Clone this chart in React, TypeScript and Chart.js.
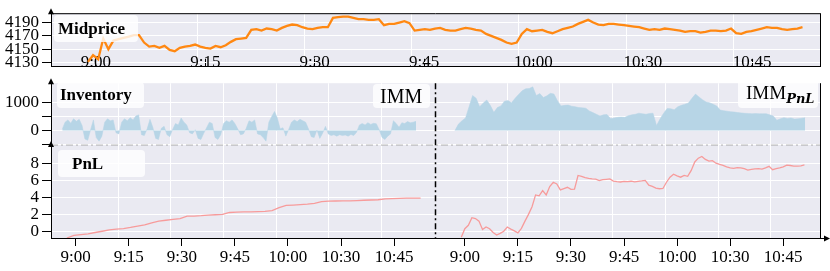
import React, { useEffect, useRef } from 'react';
import { Chart, registerables } from 'chart.js';

Chart.register(...registerables);

// ---------- data ----------
const TIME_LABELS = ['9:00', '9:15', '9:30', '9:45', '10:00', '10:30', '10:45'];
const TICK_STEP_MIN = 15;
const MID_TICKS = [4130, 4150, 4170, 4190];
const INV_TICKS = [-500, 0, 500, 1000];
const INV_LABELED = [0, 1000];
const PNL_TICKS = [0, 2, 4, 6, 8];
// vertical grid lines (minutes), as seen in the figure
const TOP_GRID = [13.9, 28.6, 43.3, 58.0, 72.7, 87.4];
const BOTTOM_GRID = [12.0, 26.9, 41.8, 56.7, 71.6, 86.5];

// Midprice, sampled every 0.7 min from -1.1 min
const MID_START = -1.1;
const MID_STEP = 0.7;
const MIDPRICE = [
  4131, 4141, 4135, 4166, 4150, 4163, 4165, 4167, 4169, 4171,
  4171, 4160, 4154, 4155, 4152, 4155, 4149, 4147, 4152, 4154,
  4155, 4157, 4154, 4152, 4151, 4155, 4153, 4156, 4161, 4165,
  4166, 4167, 4179, 4180, 4178, 4181, 4180, 4178, 4182, 4185,
  4187, 4186, 4183, 4181, 4180, 4182, 4183, 4183, 4197, 4198,
  4199, 4199, 4197, 4195, 4195, 4194, 4194, 4195, 4186, 4188,
  4188, 4190, 4192, 4189, 4178, 4179, 4180, 4179, 4181, 4182,
  4179, 4178, 4178, 4180, 4182, 4181, 4179, 4178, 4173, 4170,
  4167, 4164, 4160, 4158, 4160, 4173, 4180, 4177, 4178, 4179,
  4176, 4174, 4177, 4180, 4182, 4184, 4188, 4191, 4194, 4190,
  4187, 4186, 4188, 4188, 4187, 4186, 4185, 4184, 4183, 4181,
  4179, 4180, 4179, 4181, 4180, 4179, 4178, 4176, 4177, 4177,
  4175, 4176, 4178, 4178, 4177, 4178, 4181, 4174, 4173, 4176,
  4177, 4179, 4181, 4183, 4182, 4182, 4180, 4179, 4180, 4181, 4183,
];

// Inventory of IMM, every 0.8 min from -3.8 min
const INV_IMM_START = -3.8;
const INV_IMM_STEP = 0.8;
const INV_IMM = [
  50, 300, 380, 260, 420, 330, 400, 180, -300, -350,
  20, 380, -250, -380, -200, 300, 420, 350, 380, -80,
  -120, 300, 420, 350, 460, 380, 520, 560, -150, -180,
  60, 400, 120, -280, -320, 80, 150, -150, -220, 40,
  250, 200, 450, 300, 200, -80, -120, 30, -280, -320,
  -100, 100, 300, 250, -250, -320, -150, 250, 350, 300,
  380, 250, 60, -150, -120, 80, 350, 300, 380, -120,
  -150, -250, -380, 300, 500, 680, 450, 60, 100, -200,
  40, 300, 380, 320, 400, 350, 300, 60, -220, -250,
  20, -280, -100, 150, -120, -180, -150, -200, -150, -180,
  -160, -200, -140, -180, -60, 200, 250, 200, 280, 220,
  260, 240, 30, -250, -320, -200, -120, 350, 250, 120,
  280, 250, 320, 280, 300, 330,
];

// Inventory of IMM_PnL, every 1 min from -2.8 min
const INV_IMMPNL_START = -2.8;
const INV_IMMPNL_STEP = 1;
const INV_IMMPNL = [
  0, 230, 350, 450, 850, 1250, 1150, 850, 980, 1090,
  900, 650, 820, 880, 1050, 1070, 990, 1150, 1290, 1420,
  1490, 1500, 1560, 1250, 1320, 1180, 1240, 1330, 1300, 1060,
  880, 900, 910, 870, 850, 820, 810, 800, 700, 640,
  580, 520, 560, 570, 430, 450, 470, 480, 470, 530,
  560, 580, 620, 600, 580, 610, 620, 180, 420, 620,
  790, 780, 740, 850, 900, 940, 980, 1150, 1300, 1200,
  1100, 1020, 990, 940, 880, 730, 710, 690, 670, 660,
  640, 630, 615, 610, 600, 605, 600, 600, 600, 560,
  520, 370, 420, 460, 430, 450, 410, 420, 440, 460,
];

// PnL of IMM, every 2 min from -2.5 min
const PNL_IMM_START = -2.5;
const PNL_IMM_STEP = 2;
const PNL_IMM = [
  -0.8, -0.5, -0.4, -0.3, -0.15, 0.0, 0.15, 0.25, 0.32, 0.45,
  0.6, 0.75, 1.0, 1.2, 1.3, 1.4, 1.5, 1.78, 1.8, 1.84,
  1.9, 1.95, 2.0, 2.22, 2.26, 2.3, 2.3, 2.33, 2.36, 2.45,
  2.8, 3.05, 3.1, 3.15, 3.2, 3.3, 3.5, 3.56, 3.58, 3.59,
  3.6, 3.63, 3.67, 3.7, 3.73, 3.82, 3.86, 3.9, 3.92, 3.92, 3.93,
];

// PnL of IMM_PnL, every 1 min from -1 min
const PNL_IMMPNL_START = -1;
const PNL_IMMPNL_STEP = 1;
const PNL_IMMPNL = [
  -0.7, 0.3, 0.7, 1.6, 1.5, 1.2, 0.2, 0.5, 0.3, -0.15,
  -0.45, -0.25, 0.0, 0.5, 0.25, 0.05, -0.2, 0.35, 1.2, 2.0,
  2.9, 4.3, 4.2, 4.8, 4.3, 5.3, 5.8, 5.6, 4.9, 5.05,
  5.2, 4.95, 4.98, 6.6, 6.5, 6.35, 6.25, 6.2, 6.18, 6.0,
  6.1, 6.15, 6.2, 5.94, 5.88, 5.83, 5.9, 5.88, 5.92, 5.85,
  5.9, 5.95, 6.02, 5.45, 5.3, 5.1, 5.03, 5.06, 5.8, 6.4,
  6.75, 6.55, 6.4, 6.6, 6.5, 7.2, 8.2, 8.65, 8.85, 8.5,
  8.3, 8.35, 8.05, 7.92, 7.8, 7.62, 7.5, 7.45, 7.54, 7.5,
  7.4, 7.24, 7.33, 7.38, 7.42, 7.35, 7.5, 7.68, 7.28, 7.4,
  7.5, 7.62, 7.82, 7.78, 7.72, 7.7, 7.75, 7.85,
];

// right panel sits after the left one on the shared time axis
const RIGHT_OFFSET = 110;
const DIVIDER = 101.6;

// ---------- styling ----------
const SERIF = "'Liberation Serif', 'Times New Roman', serif";
const BG = '#eaeaf2';
const ORANGE = '#ff8812';
const INV_BLUE = '#b7d5e6';
const PNL_RED = '#f79b9b';

const toXY = (vals: number[], start: number, step: number, off = 0) =>
  vals.map((v, i) => ({ x: off + start + i * step, y: v }));

const tickMinutes = TIME_LABELS.map((_, i) => i * TICK_STEP_MIN);

function arrowUp(ctx: CanvasRenderingContext2D, x: number, y: number) {
  ctx.beginPath();
  ctx.moveTo(x, y - 5);
  ctx.lineTo(x - 3, y + 1);
  ctx.lineTo(x + 3, y + 1);
  ctx.closePath();
  ctx.fill();
}

const bgPlugin = {
  id: 'bgfill',
  beforeDraw(chart: any) {
    const { ctx, chartArea: a } = chart;
    ctx.save();
    ctx.fillStyle = BG;
    ctx.fillRect(a.left, a.top, a.right - a.left, a.bottom - a.top);
    ctx.restore();
  },
};

const topDecor = {
  id: 'topdecor',
  afterDraw(chart: any) {
    const { ctx, chartArea: a } = chart;
    ctx.save();
    ctx.strokeStyle = '#000';
    ctx.lineWidth = 1;
    ctx.beginPath();
    ctx.moveTo(a.left, a.top + 0.5);
    ctx.lineTo(a.right, a.top + 0.5);
    ctx.moveTo(a.right + 0.5, a.top);
    ctx.lineTo(a.right + 0.5, a.bottom);
    ctx.stroke();
    ctx.fillStyle = '#000';
    arrowUp(ctx, a.left, a.top);
    ctx.restore();
  },
};

const bottomDecor = {
  id: 'bottomdecor',
  afterDraw(chart: any) {
    const { ctx, chartArea: a, scales } = chart;
    const xs = scales.x;
    const yi = scales.yi;
    const yp = scales.yp;
    ctx.save();
    ctx.strokeStyle = '#b0b0b0';
    ctx.lineWidth = 1;
    ctx.setLineDash([7, 3, 2, 3]);
    ctx.beginPath();
    ctx.moveTo(a.left, yi.bottom - 1);
    ctx.lineTo(a.right, yi.bottom - 1);
    ctx.stroke();
    const dx = Math.round(xs.getPixelForValue(DIVIDER)) + 0.5;
    ctx.strokeStyle = '#000';
    ctx.lineWidth = 1.5;
    ctx.setLineDash([6, 3, 2, 3]);
    ctx.beginPath();
    ctx.moveTo(dx, a.top);
    ctx.lineTo(dx, a.bottom);
    ctx.stroke();
    ctx.setLineDash([]);
    ctx.lineWidth = 1;
    ctx.beginPath();
    ctx.moveTo(a.right + 0.5, a.top);
    ctx.lineTo(a.right + 0.5, a.bottom);
    ctx.moveTo(a.right, a.bottom + 0.5);
    ctx.lineTo(a.right + 5, a.bottom + 0.5);
    ctx.stroke();
    ctx.fillStyle = '#000';
    ctx.beginPath();
    ctx.moveTo(a.right + 10, a.bottom + 0.5);
    ctx.lineTo(a.right + 4, a.bottom - 2.5);
    ctx.lineTo(a.right + 4, a.bottom + 3.5);
    ctx.closePath();
    ctx.fill();
    arrowUp(ctx, a.left, yi.top);
    arrowUp(ctx, a.left, yp.top);
    ctx.restore();
  },
};

const tickFont = { family: SERIF, size: 17 };

const gridAxis = (min: number, max: number, values: number[]) => ({
  type: 'linear',
  position: 'bottom',
  min,
  max,
  afterBuildTicks: (s: any) => {
    s.ticks = values.map((value) => ({ value }));
  },
  afterFit: (s: any) => {
    s.height = 0;
  },
  grid: { color: '#ffffff', lineWidth: 1, drawTicks: false },
  border: { display: false },
  ticks: { display: false },
});

export default function App() {
  const refA = useRef<HTMLCanvasElement>(null);
  const refB = useRef<HTMLCanvasElement>(null);

  useEffect(() => {
    const topMin = -6.17;
    const topMax = 99.3;
    const chartA = new Chart(refA.current as HTMLCanvasElement, {
      type: 'line',
      data: {
        datasets: [
          {
            data: toXY(MIDPRICE, MID_START, MID_STEP),
            borderColor: ORANGE,
            borderWidth: 2.3,
            pointRadius: 0,
            fill: false,
          },
        ],
      },
      options: {
        animation: false,
        responsive: false,
        events: [],
        layout: { padding: { left: 0, right: 10, top: 13, bottom: 4 } },
        plugins: { legend: { display: false }, tooltip: { enabled: false } },
        scales: {
          x: {
            type: 'linear',
            min: topMin,
            max: topMax,
            afterBuildTicks: (s: any) => {
              s.ticks = tickMinutes.map((value) => ({ value }));
            },
            afterFit: (s: any) => {
              s.height = 0;
            },
            grid: { drawOnChartArea: false, tickLength: -8, tickColor: '#000', tickWidth: 1 },
            border: { color: '#000', width: 1 },
            ticks: {
              autoSkip: false,
              maxRotation: 0,
              mirror: true,
              padding: -5.5,
              color: '#000',
              font: tickFont,
              callback: (_v: any, i: number) => TIME_LABELS[i],
            },
          },
          xg: gridAxis(topMin, topMax, TOP_GRID),
          y: {
            type: 'linear',
            min: 4123.6,
            max: 4204,
            afterBuildTicks: (s: any) => {
              s.ticks = MID_TICKS.map((value) => ({ value }));
            },
            afterFit: (s: any) => {
              s.width = 51;
            },
            grid: { color: '#ffffff', tickLength: 9, tickColor: '#000' },
            border: { color: '#000', width: 1 },
            ticks: { autoSkip: false, padding: 3, color: '#000', font: tickFont, callback: (v: any) => String(v) },
          },
        },
      } as any,
      plugins: [bgPlugin, topDecor],
    });

    const invStyle = {
      backgroundColor: INV_BLUE,
      borderColor: INV_BLUE,
      borderWidth: 0.5,
      pointRadius: 0,
      fill: 'origin',
      yAxisID: 'yi',
      xAxisID: 'x',
    };
    const pnlStyle = {
      borderColor: PNL_RED,
      borderWidth: 1.3,
      pointRadius: 0,
      fill: false,
      yAxisID: 'yp',
      xAxisID: 'x',
    };

    const botMin = -6.98;
    const botMax = 210.4;
    const chartB = new Chart(refB.current as HTMLCanvasElement, {
      type: 'line',
      data: {
        datasets: [
          { ...invStyle, data: toXY(INV_IMM, INV_IMM_START, INV_IMM_STEP) },
          { ...invStyle, data: toXY(INV_IMMPNL, INV_IMMPNL_START, INV_IMMPNL_STEP, RIGHT_OFFSET) },
          { ...pnlStyle, data: toXY(PNL_IMM, PNL_IMM_START, PNL_IMM_STEP) },
          { ...pnlStyle, data: toXY(PNL_IMMPNL, PNL_IMMPNL_START, PNL_IMMPNL_STEP, RIGHT_OFFSET) },
        ],
      },
      options: {
        animation: false,
        responsive: false,
        events: [],
        layout: { padding: { left: 0, right: 10, top: 7.7, bottom: 0 } },
        plugins: { legend: { display: false }, tooltip: { enabled: false } },
        scales: {
          x: {
            type: 'linear',
            min: botMin,
            max: botMax,
            afterBuildTicks: (s: any) => {
              s.ticks = [...tickMinutes, ...tickMinutes.map((t) => t + RIGHT_OFFSET)].map((value) => ({ value }));
            },
            afterFit: (s: any) => {
              s.height = 33;
            },
            grid: { drawOnChartArea: false, tickLength: 8, tickColor: '#000', tickWidth: 1 },
            border: { color: '#000', width: 1 },
            ticks: {
              autoSkip: false,
              maxRotation: 0,
              padding: 1,
              color: '#000',
              font: tickFont,
              callback: (_v: any, i: number) => TIME_LABELS[i % TIME_LABELS.length],
            },
          },
          xg: gridAxis(botMin, botMax, [...BOTTOM_GRID, ...BOTTOM_GRID.map((g) => g + RIGHT_OFFSET)]),
          yp: {
            type: 'linear',
            position: 'left',
            stack: 'main',
            stackWeight: 95,
            min: -0.8,
            max: 10.08,
            afterBuildTicks: (s: any) => {
              s.ticks = PNL_TICKS.map((value) => ({ value }));
            },
            afterFit: (s: any) => {
              s.width = 51;
            },
            grid: { color: '#ffffff', tickLength: 9, tickColor: '#000' },
            border: { color: '#000', width: 1 },
            ticks: { autoSkip: false, padding: 3, color: '#000', font: tickFont, callback: (v: any) => String(v) },
          },
          yi: {
            type: 'linear',
            position: 'left',
            stack: 'main',
            stackWeight: 65,
            min: -555,
            max: 1690,
            afterBuildTicks: (s: any) => {
              s.ticks = INV_TICKS.map((value) => ({ value }));
            },
            afterFit: (s: any) => {
              s.width = 51;
            },
            grid: { color: '#ffffff', tickLength: 9, tickColor: '#000' },
            border: { color: '#000', width: 1 },
            ticks: {
              autoSkip: false,
              padding: 3,
              color: '#000',
              font: tickFont,
              callback: (v: any) => (INV_LABELED.includes(v) ? String(v) : ''),
            },
          },
        },
      } as any,
      plugins: [bgPlugin, bottomDecor],
    });

    return () => {
      chartA.destroy();
      chartB.destroy();
    };
  }, []);

  const box = (left: number, top: number, w: number, h: number, extra: any = {}) => ({
    position: 'absolute' as const,
    left,
    top,
    width: w,
    height: h,
    background: 'rgba(255,255,255,0.8)',
    borderRadius: 4,
    boxSizing: 'border-box' as const,
    fontFamily: SERIF,
    color: '#000',
    display: 'flex',
    alignItems: 'center',
    whiteSpace: 'nowrap' as const,
    ...extra,
  });

  return (
    <div style={{ position: 'absolute', left: 0, top: 0, width: 830, height: 271, background: '#fff', overflow: 'hidden' }}>
      <canvas ref={refA} width={830} height={80} style={{ position: 'absolute', left: 0, top: 0 }} />
      <canvas ref={refB} width={830} height={201} style={{ position: 'absolute', left: 0, top: 70 }} />
      <div style={box(54, 15, 84, 27, { paddingLeft: 4, fontWeight: 'bold', fontSize: 17 })}>Midprice</div>
      <div style={box(57, 82, 87, 26, { paddingLeft: 3, fontWeight: 'bold', fontSize: 17 })}>Inventory</div>
      <div style={box(58, 150, 87, 27, { paddingLeft: 14, fontWeight: 'bold', fontSize: 17 })}>PnL</div>
      <div style={box(373, 84, 57, 24, { paddingLeft: 7, fontSize: 20 })}>IMM</div>
      <div style={box(738, 78, 80, 30, { paddingLeft: 8, fontSize: 19 })}>
        <span>IMM</span>
        <span
          style={{
            fontFamily: "'DejaVu Serif', serif",
            fontWeight: 'bold',
            fontStyle: 'italic',
            fontSize: 13,
            position: 'relative',
            top: 5,
          }}
        >
          PnL
        </span>
      </div>
    </div>
  );
}
